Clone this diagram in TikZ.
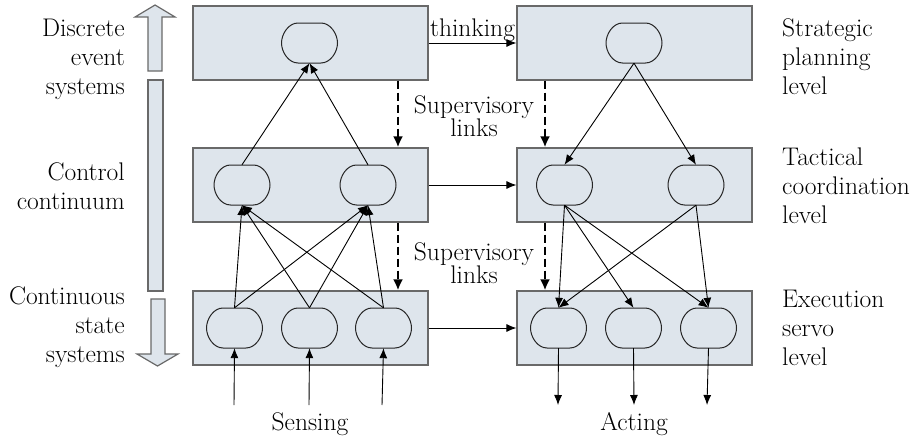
\documentclass[tikz,border=0pt]{standalone}
\usepackage{xcolor}
\usepackage{tikz}
\usetikzlibrary{shapes,arrows.meta,positioning}
\definecolor{panelblue}{RGB}{222,229,236}
\definecolor{framegray}{RGB}{105,105,105}

\begin{document}
\begin{tikzpicture}[x=1pt,y=-1pt,
  level/.style={draw=framegray, line width=1.2pt, fill=panelblue, minimum width=235pt, minimum height=74pt, inner sep=0pt},
  unit/.style={minimum width=56pt, minimum height=40pt, inner sep=0pt},
  unitline/.style={draw=black!85, line width=1pt, fill=panelblue},
  txt/.style={font=\fontsize{25.5}{29}\selectfont, inner sep=0pt},
  link/.style={-{Latex[length=10pt,width=8pt]}, line width=0.9pt},
  super/.style={-{Latex[length=11pt,width=10pt]}, line width=2.8pt, dash pattern=on 8pt off 4pt},
  bigarrow/.style={draw=framegray, line width=1.2pt, fill=panelblue}]
\useasboundingbox (0,0) rectangle (916,439);

% Level boxes - sensing side and acting side
\node[level] (lt) at (310.5,43) {};
\node[level] (lm) at (310.5,185) {};
\node[level] (lb) at (310.5,328) {};
\node[level] (rt) at (634.5,43) {};
\node[level] (rm) at (634.5,185) {};
\node[level] (rb) at (634.5,328) {};

% Units inside the boxes
\node[unit] (lt1) at (309.5,43) {};
\node[unit] (lm1) at (242,185) {};
\node[unit] (lm2) at (368,185) {};
\node[unit] (lb1) at (234.5,328) {};
\node[unit] (lb2) at (309.5,328) {};
\node[unit] (lb3) at (383.5,328) {};
\node[unit] (rt1) at (634,43) {};
\node[unit] (rm1) at (564.5,185) {};
\node[unit] (rm2) at (696,185) {};
\node[unit] (rb1) at (558.5,328) {};
\node[unit] (rb2) at (633.5,328) {};
\node[unit] (rb3) at (708.5,328) {};
\foreach \n in {lt1,lm1,lm2,lb1,lb2,lb3,rt1,rm1,rm2,rb1,rb2,rb3}
  \draw[unitline, shift={(\n.center)}] (-11.5,-20) -- (11.5,-20)
    .. controls (21,-20) and (28,-9) .. (28,0)
    .. controls (28,9) and (21,20) .. (11.5,20) -- (-11.5,20)
    .. controls (-21,20) and (-28,9) .. (-28,0)
    .. controls (-28,-9) and (-21,-20) .. (-11.5,-20) -- cycle;

% Upward links (sensing side)
\draw[link] (lm1.north) -- (lt1.south);
\draw[link] (lm2.north) -- (lt1.south);
\foreach \i in {1,2,3} {
  \draw[link] (lb\i.north) -- (lm1.south);
  \draw[link] (lb\i.north) -- (lm2.south);
}

% Downward links (acting side)
\draw[link] (rt1.south) -- (rm1.north);
\draw[link] (rt1.south) -- (rm2.north);
\foreach \i in {1,2,3}
  \draw[link] (rm1.south) -- (rb\i.north);
\draw[link] (rm2.south) -- (rb1.north);
\draw[link] (rm2.south) -- (rb3.north);

% Across the columns
\draw[link] (lt.east) -- (rt.west) node[midway, above, txt, inner sep=1pt] {thinking};
\draw[link] (lm.east) -- (rm.west);
\draw[link] (lb.east) -- (rb.west);

% Supervisory links
\draw[super] ([xshift=87.5pt]lt.south) -- ([xshift=87.5pt]lm.north);
\draw[super] ([xshift=87.5pt]lm.south) -- ([xshift=87.5pt]lb.north);
\draw[super] ([xshift=-89.5pt]rt.south) -- ([xshift=-89.5pt]rm.north);
\draw[super] ([xshift=-89.5pt]rm.south) -- ([xshift=-89.5pt]rb.north);
\node[txt, align=center, font=\fontsize{25.5}{23}\selectfont] (sup1) at (474,116) {Supervisory\\links};
\node[txt, align=center, font=\fontsize{25.5}{23}\selectfont] (sup2) at (474,263) {Supervisory\\links};

% Sensing and acting
\foreach \i/\x in {1/234,2/309,3/382} {
  \coordinate (s\i) at (\x,405);
  \draw[link] (s\i) -- (lb\i.south);
}
\foreach \i/\x in {1/558,2/634,3/707} {
  \coordinate (a\i) at (\x,405);
  \draw[link] (rb\i.south) -- (a\i);
}
\node[txt] (sensing) at (310,424) {Sensing};
\node[txt] (acting) at (634,424) {Acting};

% Continuum arrows on the left
\draw[bigarrow] (148,71) -- (148,17) -- (135,17) -- (155,5) -- (175,17) -- (162,17) -- (162,71) -- cycle;
\draw[bigarrow] (148,80) rectangle (163,291);
\draw[bigarrow] (151,299) -- (151,354) -- (137,354) -- (157.5,366) -- (178,354) -- (165,354) -- (165,299) -- cycle;

% Left labels
\node[txt, anchor=east, align=right] (des) at (125,59) {Discrete\\event\\systems};
\node[txt, anchor=east, align=right] (cc) at (125,186) {Control\\continuum};
\node[txt, anchor=east, align=right] (css) at (125,327) {Continuous\\state\\systems};

% Right labels
\node[txt, anchor=west, align=left] (spl) at (782,57) {Strategic\\planning\\level};
\node[txt, anchor=west, align=left] (tcl) at (782,186) {Tactical\\coordination\\level};
\node[txt, anchor=west, align=left] (esl) at (782,328) {Execution\\servo\\level};
\end{tikzpicture}
\end{document}
